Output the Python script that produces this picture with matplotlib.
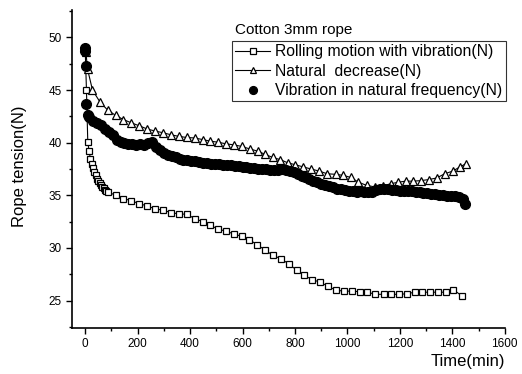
import matplotlib
matplotlib.use("Agg")
import matplotlib.pyplot as plt
from matplotlib.ticker import MultipleLocator

plt.rcParams['font.family'] = ['Liberation Sans', 'DejaVu Sans']

# Rolling motion with vibration (squares)
t_roll = [0, 5, 10, 15, 20, 25, 30, 35, 40, 45, 50, 55, 60, 65, 70, 75, 80,
          88, 118, 146, 175, 207, 237, 268, 298, 328, 357, 387, 418, 448, 477,
          507, 536, 566, 597, 626, 656, 687, 715, 745, 776, 806, 835, 866, 896,
          927, 956, 986, 1016, 1047, 1076, 1107, 1138, 1167, 1196, 1226, 1256,
          1286, 1316, 1344, 1374, 1404, 1436]
y_roll = [49.0, 45.0, 40.1, 39.2, 38.5, 38.0, 37.6, 37.2, 36.9, 36.6, 36.4,
          36.2, 36.0, 35.8, 35.7, 35.5, 35.4,
          35.3, 35.0, 34.7, 34.5, 34.2, 34.0, 33.7, 33.6, 33.35, 33.25, 33.2,
          32.8, 32.5, 32.15, 31.8, 31.6, 31.35, 31.1, 30.8, 30.3, 29.8, 29.3,
          29.0, 28.5, 27.9, 27.4, 27.0, 26.75, 26.35, 26.0, 25.9, 25.9, 25.85,
          25.8, 25.6, 25.6, 25.6, 25.6, 25.65, 25.8, 25.8, 25.8, 25.8, 25.8,
          26.05, 25.45]

# Natural decrease (triangles)
t_nat = [0, 3, 9, 28, 57, 86, 116, 146, 175, 207, 237, 268, 297, 328, 358,
         387, 418, 448, 477, 507, 536, 566, 597, 629, 658, 686, 715, 743, 772,
         802, 832, 862, 893, 923, 955, 984, 1013, 1042, 1073, 1105, 1135, 1165,
         1194, 1222, 1251, 1280, 1310, 1340, 1371, 1401, 1429, 1451]
y_nat = [49.0, 48.6, 47.0, 45.0, 43.85, 43.1, 42.6, 42.2, 41.9, 41.6, 41.3,
         41.1, 40.95, 40.75, 40.6, 40.5, 40.45, 40.3, 40.15, 40.05, 39.9, 39.8,
         39.65, 39.4, 39.2, 38.9, 38.6, 38.4, 38.1, 37.9, 37.7, 37.5, 37.3,
         37.05, 37.0, 36.9, 36.7, 36.25, 35.95, 35.8, 35.9, 36.1, 36.25, 36.35,
         36.35, 36.4, 36.5, 36.65, 37.05, 37.3, 37.7, 38.0]

# Vibration in natural frequency (filled circles)
t_vib = [0, 0, 2, 5, 10, 15, 30, 45, 60, 75, 90, 105, 120, 135, 150, 165, 180,
         195, 210, 225, 240, 255, 270, 285, 300, 315, 330, 345, 360, 375, 390,
         405, 420, 435, 450, 465, 480, 495, 510, 525, 540, 555, 570, 585, 600,
         615, 630, 645, 660, 675, 690, 705, 720, 735, 750, 765, 780, 795, 810,
         825, 840, 855, 870, 885, 900, 915, 930, 945, 960, 975, 990, 1005,
         1020, 1035, 1050, 1065, 1080, 1095, 1110, 1125, 1140, 1155, 1170,
         1185, 1200, 1215, 1230, 1245, 1260, 1275, 1290, 1305, 1320, 1335,
         1350, 1365, 1380, 1395, 1410, 1425, 1440, 1450]
y_vib = [49.0, 48.7, 47.3, 43.7, 42.6, 42.4, 42.1, 41.9, 41.7, 41.3, 41.0,
         40.7, 40.3, 40.1, 40.0, 39.9, 39.9, 39.8, 39.9, 39.8, 40.0, 40.1,
         39.6, 39.3, 39.0, 38.8, 38.7, 38.6, 38.5, 38.4, 38.4, 38.3, 38.3,
         38.2, 38.1, 38.1, 38.0, 38.0, 37.95, 37.9, 37.9, 37.85, 37.8, 37.75,
         37.7, 37.65, 37.6, 37.6, 37.55, 37.5, 37.5, 37.45, 37.4, 37.4, 37.5,
         37.45, 37.35, 37.2, 37.0, 36.85, 36.7, 36.55, 36.4, 36.25, 36.1,
         36.0, 35.9, 35.75, 35.65, 35.6, 35.5, 35.45, 35.4, 35.35, 35.4,
         35.35, 35.3, 35.35, 35.5, 35.6, 35.65, 35.6, 35.55, 35.5, 35.45,
         35.45, 35.4, 35.4, 35.35, 35.3, 35.25, 35.2, 35.15, 35.1, 35.05,
         35.0, 34.95, 34.9, 34.9, 34.85, 34.7, 34.2]

labels = ["Rolling motion with vibration(N)", "Natural  decrease(N)",
          "Vibration in natural frequency(N)"]

fig = plt.figure(figsize=(5.22, 3.74), dpi=100)
ax = fig.add_axes([0.138, 0.123, 0.829, 0.850])

ax.plot(t_roll, y_roll, color='black', lw=0.8, marker='s', ms=5,
        mfc='white', mec='black', mew=0.9, label=labels[0])
ax.plot(t_nat, y_nat, color='black', lw=0.8, marker='^', ms=6,
        mfc='white', mec='black', mew=0.9, label=labels[1])
ax.plot(t_vib, y_vib, linestyle='none', marker='o', ms=7,
        mfc='black', mec='black', label=labels[2])

ax.set_xlim(-50, 1600)
ax.set_ylim(22.4, 52.6)
ax.xaxis.set_major_locator(MultipleLocator(200))
ax.xaxis.set_minor_locator(MultipleLocator(100))
ax.yaxis.set_major_locator(MultipleLocator(5))
ax.yaxis.set_minor_locator(MultipleLocator(2.5))
ax.tick_params(which='major', direction='out', length=4, width=1, labelsize=8.5)
ax.tick_params(which='minor', direction='out', length=2.5, width=1)
for s in ['top', 'right']:
    ax.spines[s].set_visible(False)
for s in ['left', 'bottom']:
    ax.spines[s].set_linewidth(1.2)

ax.set_ylabel("Rope tension(N)", fontsize=12)
ax.yaxis.set_label_coords(-0.105, 0.51)
ax.set_xlabel("Time(min)", fontsize=12)
ax.xaxis.set_label_coords(0.915, -0.083)

leg = ax.legend(loc='upper right', bbox_to_anchor=(1.002, 0.9025), fontsize=11.3,
                frameon=True, fancybox=False, edgecolor='black',
                borderpad=0.2, labelspacing=0.28, handlelength=2.2,
                handletextpad=0.35, borderaxespad=0, markerscale=0.8)
leg.get_frame().set_linewidth(0.8)
ax.text(0.376, 0.937, "Cotton 3mm rope", transform=ax.transAxes,
        fontsize=11, ha='left', va='center')

fig.savefig("out.png", dpi=100)
